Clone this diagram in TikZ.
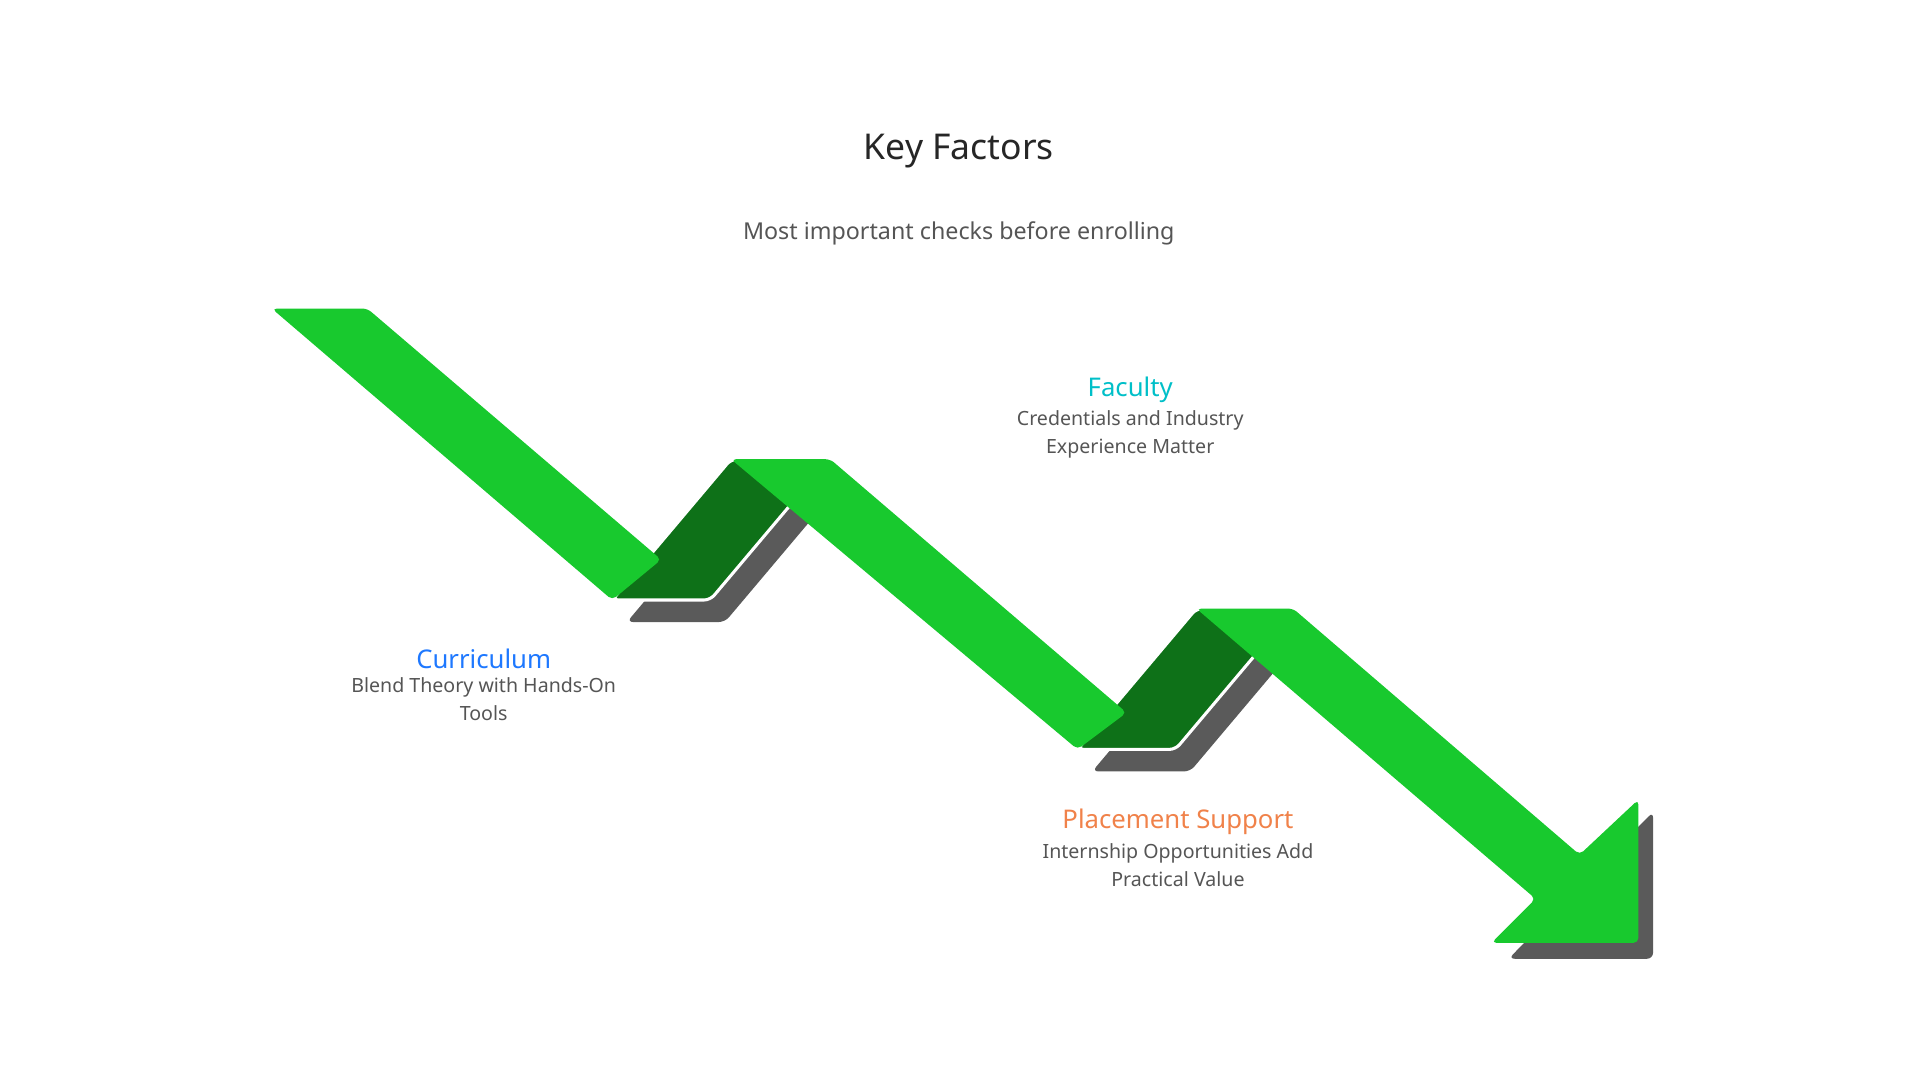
\documentclass[tikz,border=0pt]{standalone}
\usepackage{fontspec}
\setmainfont{Noto Sans}
\usetikzlibrary{positioning}
\definecolor{bandgreen}{HTML}{18C92E}
\definecolor{foldgreen}{HTML}{0E7118}
\definecolor{shadowgray}{HTML}{5A5A5A}
\definecolor{bodygray}{HTML}{555555}
\definecolor{curblue}{HTML}{1E78FF}
\definecolor{faccyan}{HTML}{00BFC8}
\definecolor{placeorange}{HTML}{F0824A}
\begin{document}
\begin{tikzpicture}[x=1pt, y=-1pt,
    band/.style={fill=bandgreen, draw=none},
    fold/.style={fill=foldgreen, draw=white, line width=2.5pt, rounded corners=5pt},
    shadow/.style={fill=shadowgray, draw=none, rounded corners=5pt},
    head/.style={font=\bfseries\fontsize{21}{25}\selectfont, align=center},
    body/.style={font=\fontsize{16}{23}\selectfont, text=bodygray, align=center}]
    \useasboundingbox (0,0) rectangle (1568,882);
    % ombres
    \fill[shadow] (512,508) -- (592,508) -- (689,393) -- (609,393) -- cycle;
    \fill[shadow] (892,630) -- (972,630) -- (1069,515) -- (989,515) -- cycle;
    \fill[shadow] (1232,783) -- (1350,783) -- (1350,663) -- cycle;
    % plis
    \draw[fold] (500,490) -- (580,490) -- (677,375) -- (597,375) -- cycle;
    \draw[fold] (880,612) -- (960,612) -- (1057,497) -- (977,497) -- cycle;
    % bandes
    \fill[band, rounded corners=4pt] (222,252) -- (300,252) -- (540,457) -- (500,490) -- cycle;
    \fill[band, rounded corners=4pt] (597,375) -- (678,375) -- (920,582) -- (880,612) -- cycle;
    \fill[band, rounded corners=4pt] (977,497) -- (1056,497) -- (1290,698)
        -- (1338,653) -- (1338,770) -- (1218,770) -- (1254,734) -- cycle;
    % textes
    \node[font=\fontsize{29}{34}\selectfont, text=black!85] (title) at (783,123) {Key Factors};
    \node[font=\fontsize{19}{23}\selectfont, text=bodygray] (subtitle) at (783,191) {Most important checks before enrolling};
    \node[head, text=faccyan] (faculty) at (923,318) {Faculty};
    \node[body, below=0pt of faculty] (facultytxt) {Credentials and Industry\\Experience Matter};
    \node[head, text=curblue] (curriculum) at (395,538) {Curriculum};
    \node[body, below=0pt of curriculum] (curriculumtxt) {Blend Theory with Hands-On\\Tools};
    \node[head, text=placeorange] (placement) at (962,671) {Placement Support};
    \node[body, below=0pt of placement] (placementtxt) {Internship Opportunities Add\\Practical Value};
\end{tikzpicture}
\end{document}
